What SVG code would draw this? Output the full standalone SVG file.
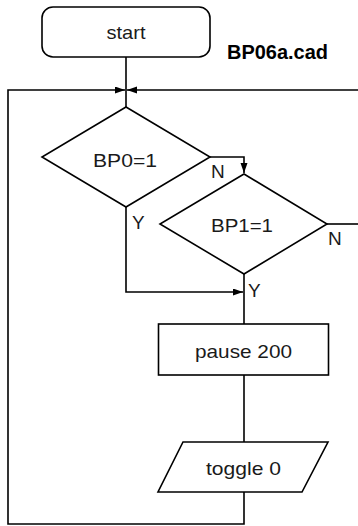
<svg xmlns="http://www.w3.org/2000/svg" width="358" height="526" viewBox="0 0 358 526">
<style>
.s{fill:#fff;stroke:#000;stroke-width:1.6}
.c{fill:none;stroke:#000;stroke-width:1.6}
text{font-family:"Liberation Sans",Arial,sans-serif;font-size:19px;fill:#1a1a1a}
.m{text-anchor:middle}
.b{font-weight:bold;font-size:20px;fill:#000}
</style>
<defs>
<marker id="a" markerUnits="userSpaceOnUse" markerWidth="11" markerHeight="8" refX="10" refY="3.5" orient="auto">
<path d="M0,0 L10,3.5 L0,7 z" fill="#000"/>
</marker>
</defs>
<rect width="358" height="526" fill="#fff"/>
<g id="connectors">
<path class="c" d="M126,57 V107"/>
<path class="c" d="M244,492 V524 H8 V90 H125" marker-end="url(#a)"/>
<path class="c" d="M358,90 H127" marker-end="url(#a)"/>
<path class="c" d="M210,157 H244 V173" marker-end="url(#a)"/>
<path class="c" d="M126,207 V292 H243" marker-end="url(#a)"/>
<path class="c" d="M327,224 H358"/>
<path class="c" d="M244,274 V324"/>
<path class="c" d="M244,375 V442"/>
<text x="211" y="178">N</text>
<text x="132" y="229">Y</text>
<text x="328" y="245">N</text>
<text x="248" y="297">Y</text>
</g>
<g id="start">
<rect class="s" x="42" y="7" width="168" height="50" rx="11"/>
<text class="m" x="126" y="39" textLength="39" lengthAdjust="spacingAndGlyphs">start</text>
</g>
<g id="title">
<text class="b" x="227" y="59" textLength="101" lengthAdjust="spacingAndGlyphs">BP06a.cad</text>
</g>
<g id="bp0">
<polygon class="s" points="126,107 210,157 126,207 42,157"/>
<text class="m" x="125" y="167" textLength="64" lengthAdjust="spacingAndGlyphs">BP0=1</text>
</g>
<g id="bp1">
<polygon class="s" points="244,174 327,224 244,274 160,224"/>
<text class="m" x="242" y="232" textLength="62" lengthAdjust="spacingAndGlyphs">BP1=1</text>
</g>
<g id="pause">
<rect class="s" x="158.5" y="324" width="170" height="51"/>
<text class="m" x="243.5" y="358" textLength="97" lengthAdjust="spacingAndGlyphs">pause 200</text>
</g>
<g id="toggle">
<polygon class="s" points="183,442 328,442 302,492 158,492"/>
<text class="m" x="243.5" y="475" textLength="75" lengthAdjust="spacingAndGlyphs">toggle 0</text>
</g>
</svg>
